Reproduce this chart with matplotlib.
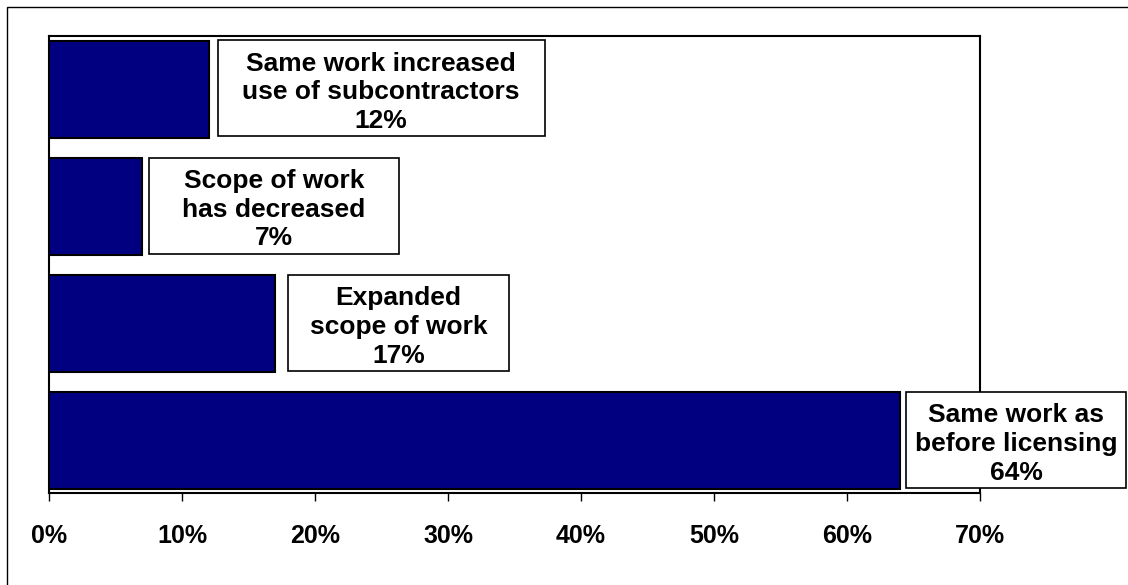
import matplotlib
matplotlib.use("Agg")
import matplotlib.pyplot as plt
from matplotlib.patches import Rectangle
from matplotlib.transforms import IdentityTransform
from matplotlib.ticker import FuncFormatter

# Survey answers, listed from the bottom bar to the top bar
categories = [
    "Same work as\nbefore licensing",
    "Expanded\nscope of work",
    "Scope of work\nhas decreased",
    "Same work increased\nuse of subcontractors",
]
shares = [64, 17, 7, 12]          # percent of respondents
x_ticks = [0, 10, 20, 30, 40, 50, 60, 70]

# Label-box layout (pixels): gap after the bar end and box width
box_gap_px = [6, 13, 7, 9]
box_width_px = [220, 221, 250, 327]
box_height_px = 96

W, H, DPI = 1128, 585, 100
plt.rcParams["font.family"] = ["Liberation Sans", "DejaVu Sans"]
plt.rcParams["font.weight"] = "bold"

fig = plt.figure(figsize=(W / DPI, H / DPI), dpi=DPI, facecolor="white")

# outer chart frame (runs off the right and bottom edges)
fig.add_artist(Rectangle((6.5, -20), 1200, H - 6.5 + 20, fill=False,
                         edgecolor="black", linewidth=1.0,
                         transform=IdentityTransform()))

left, right, top, bottom = 49, 980, 36, 493
ax = fig.add_axes([left / W, (H - bottom) / H, (right - left) / W, (bottom - top) / H])

ypos = list(range(len(shares)))
ax.barh(ypos, shares, height=0.833, color="#000080", edgecolor="black",
        linewidth=1.5, zorder=3)

ax.set_xlim(0, 70)
ax.set_ylim(-0.447, 3.457)
ax.set_xticks(x_ticks)
ax.xaxis.set_major_formatter(FuncFormatter(lambda v, p: f"{v:.0f}%"))
ax.tick_params(axis="x", direction="out", length=6, width=1.0, pad=16,
               labelsize=18, colors="black")
for lbl in ax.get_xticklabels():
    lbl.set_fontweight("bold")
ax.set_yticks([])
for s in ax.spines.values():
    s.set_linewidth(1.5)
    s.set_color("black")

# boxed value labels beside each bar
fig.canvas.draw()
for y, v, cat, gap, bw in zip(ypos, shares, categories, box_gap_px, box_width_px):
    px, py = ax.transData.transform((v, y))
    x0 = px + gap
    y0 = py - box_height_px / 2 + 1
    fig.add_artist(Rectangle((x0, y0), bw, box_height_px, facecolor="white",
                             edgecolor="black", linewidth=1.2,
                             transform=IdentityTransform(), zorder=5))
    fig.text(x0 + bw / 2, py - 3, f"{cat}\n{v}%", transform=IdentityTransform(),
             ha="center", va="center", multialignment="center",
             fontsize=19, fontweight="bold", linespacing=1.26, zorder=6)

fig.savefig("out.png", dpi=DPI, facecolor="white")
